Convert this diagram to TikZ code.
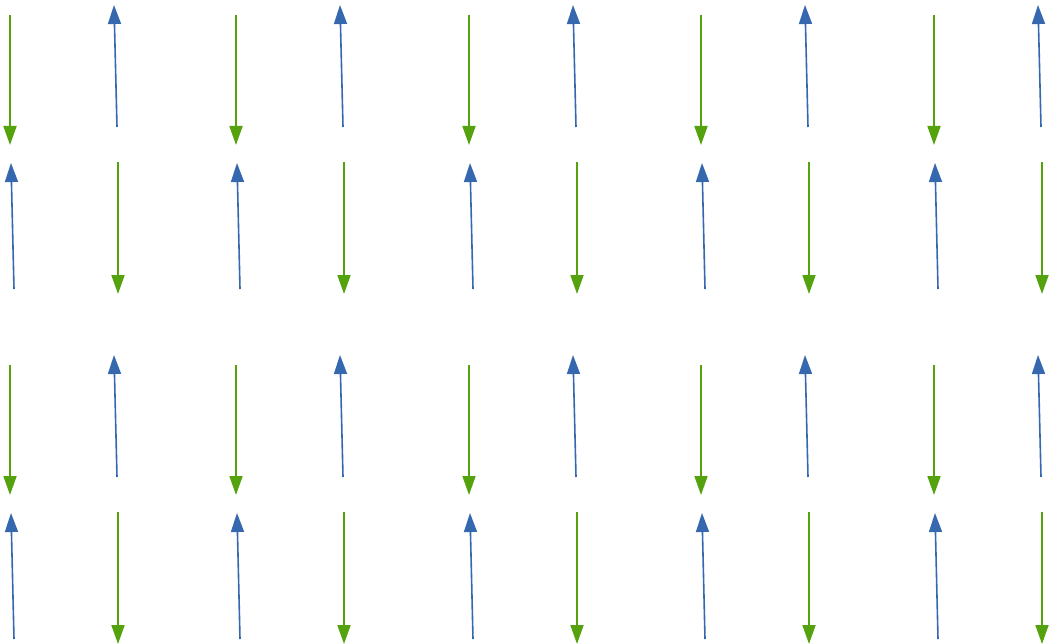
\documentclass[tikz,border=0pt]{standalone}
\usepackage{xcolor}
\usepackage{tikz}
\usetikzlibrary{arrows.meta}

\definecolor{spingreen}{RGB}{84,162,14}
\definecolor{spinblue}{RGB}{54,104,176}

\begin{document}
\begin{tikzpicture}[
    x=1pt, y=-1pt,
    spindown/.style={-{Triangle[length=19pt,width=13pt]}, line width=1.8pt, spingreen},
    spinup/.style={-{Triangle[length=19pt,width=13pt]}, line width=1.6pt, spinblue}
  ]
    \useasboundingbox (0,0) rectangle (1051,644);

    % two double rows of spins, the lower pair repeats the upper one
    \foreach \col/\x in {1/10, 2/236, 3/469, 4/701, 5/934} {
      \foreach \blk/\dy in {a/0, b/350} {
        % first row: down, then up
        \coordinate (dtop-\blk\col) at (\x, 15+\dy);
        \coordinate (dtip-\blk\col) at (\x, 145+\dy);
        \coordinate (ubot-\blk\col) at (\x+107, 127+\dy);
        \coordinate (utip-\blk\col) at (\x+104, 5+\dy);
        % second row: up, then down
        \coordinate (vbot-\blk\col) at (\x+4, 289+\dy);
        \coordinate (vtip-\blk\col) at (\x+1, 163+\dy);
        \coordinate (etop-\blk\col) at (\x+108, 162+\dy);
        \coordinate (etip-\blk\col) at (\x+108, 294+\dy);

        \draw[spindown] (dtop-\blk\col) -- (dtip-\blk\col);
        \draw[spinup] (ubot-\blk\col) -- (utip-\blk\col);
        \draw[spinup] (vbot-\blk\col) -- (vtip-\blk\col);
        \draw[spindown] (etop-\blk\col) -- (etip-\blk\col);
      }
    }
  \end{tikzpicture}
\end{document}
